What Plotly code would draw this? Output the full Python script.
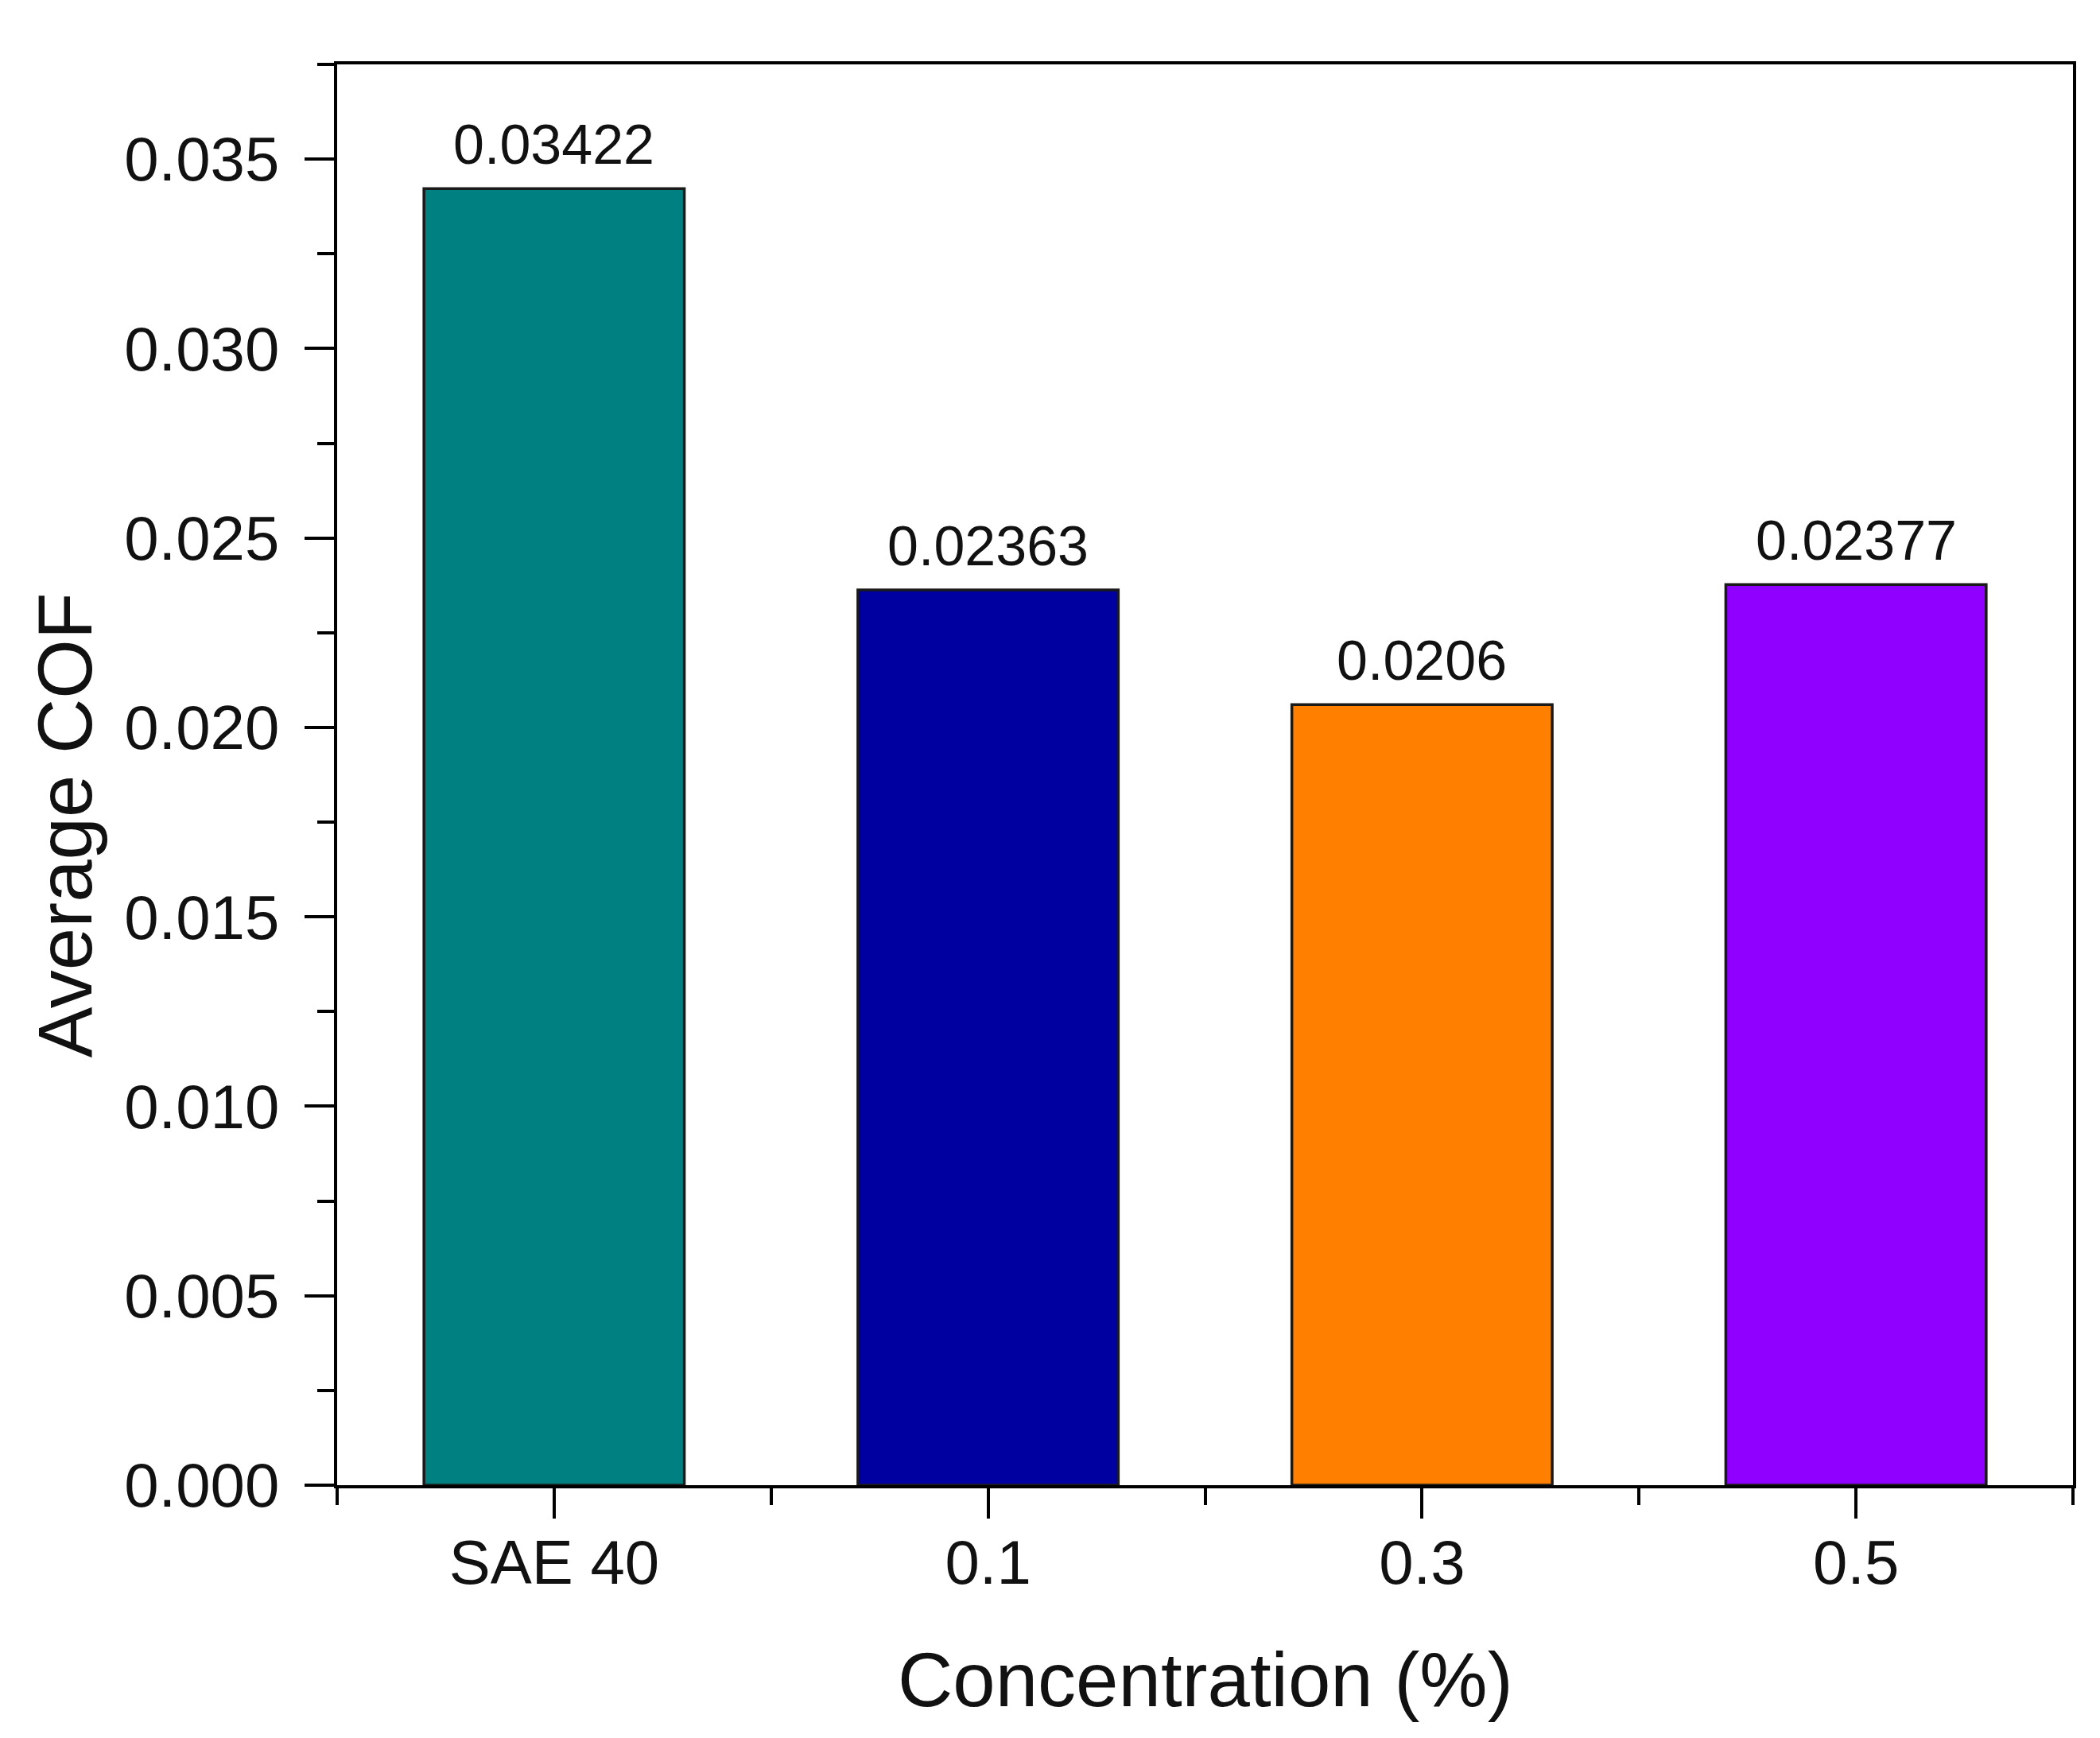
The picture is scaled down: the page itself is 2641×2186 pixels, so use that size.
import plotly.graph_objects as go

categories = ["SAE 40", "0.1", "0.3", "0.5"]
cof_values = [0.03422, 0.02363, 0.0206, 0.02377]
bar_colors = ["#008080", "#0000A0", "#FF8000", "#9000FF"]
y_tick_values = [0.000, 0.005, 0.010, 0.015, 0.020, 0.025, 0.030, 0.035]
y_tick_labels = ["0.000", "0.005", "0.010", "0.015", "0.020", "0.025", "0.030", "0.035"]

FONT = "Arial, 'Liberation Sans', Helvetica, sans-serif"
x_pos = list(range(len(categories)))

fig = go.Figure()
fig.add_trace(go.Bar(
    x=x_pos, y=cof_values, width=0.6,
    marker=dict(color=bar_colors, line=dict(color="#1a1a1a", width=3.5)),
    showlegend=False,
))

for xi, v in zip(x_pos, cof_values):
    fig.add_annotation(x=xi, y=v, text=str(v), showarrow=False,
                       yanchor="bottom", yshift=14,
                       font=dict(family=FONT, size=70, color="#111"))

axis_common = dict(showline=True, linecolor="black", linewidth=4, mirror=True,
                   ticks="outside", tickwidth=4, tickcolor="black",
                   showgrid=False, zeroline=False,
                   tickfont=dict(family=FONT, size=78, color="#111"))

fig.update_xaxes(**axis_common, range=[-0.5, len(categories) - 0.5],
                 tickmode="array", tickvals=x_pos, ticktext=categories, ticklen=38,
                 ticklabelstandoff=-12,
                 minor=dict(tickmode="array", tickvals=[i - 0.5 for i in range(len(categories) + 1)],
                            ticks="outside", ticklen=21, tickwidth=4, tickcolor="black"))
fig.update_yaxes(**axis_common, range=[0, 0.0375],
                 tickmode="array", tickvals=y_tick_values, ticktext=y_tick_labels, ticklen=37,
                 ticklabelstandoff=16,
                 minor=dict(tickmode="array", tickvals=[0.0025 + 0.005 * i for i in range(8)],
                            ticks="outside", ticklen=21, tickwidth=4, tickcolor="black"))

# axis titles
fig.add_annotation(text="Average COF", xref="paper", yref="paper", x=0, y=0.5,
                   xanchor="center", yanchor="middle", xshift=-343, yshift=-64,
                   textangle=-90, showarrow=False,
                   font=dict(family=FONT, size=96, color="#111"))
fig.add_annotation(text="Concentration (%)", xref="paper", yref="paper", x=0.5, y=0,
                   xanchor="center", yanchor="middle", yshift=-244, showarrow=False,
                   font=dict(family=FONT, size=96, color="#111"))

fig.update_layout(width=2641, height=2186, plot_bgcolor="white", paper_bgcolor="white",
                  margin=dict(l=416, r=42, t=73, b=326), bargap=0.4)

fig.write_html("out.html")
